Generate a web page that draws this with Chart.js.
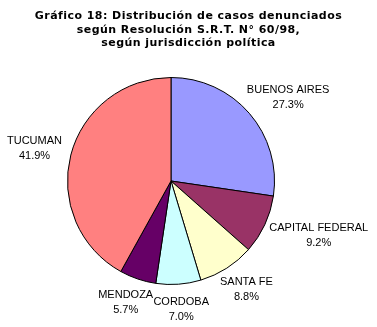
<!DOCTYPE html>
<html>
<head>
<meta charset="utf-8">
<script src="https://cdn.jsdelivr.net/npm/chart.js@4"></script>
<style>
  html, body { margin: 0; padding: 0; background: #fff; }
  #wrap { position: relative; width: 377px; height: 327px; }
  #titulo {
    position: absolute; left: 0; top: 9px; width: 377px;
    text-align: center; font: bold 11px "DejaVu Sans", Verdana, sans-serif;
    letter-spacing: 0.45px; line-height: 13.5px; color: #000;
  }
  #casos { position: absolute; left: 0; top: 0; }
</style>
</head>
<body>
<div id="wrap">
  <canvas id="casos" width="377" height="327"></canvas>
  <div id="titulo"></div>
</div>
<script>
// datos
const provincias = ['BUENOS AIRES', 'CAPITAL FEDERAL', 'SANTA FE', 'CORDOBA', 'MENDOZA', 'TUCUMAN']
const porcentajes = [27.3, 9.2, 8.8, 7.0, 5.7, 41.9]
const colores = ['#9999FF', '#993366', '#FFFFCC', '#CCFFFF', '#660066', '#FF8080']
const titulo = [
  'Gráfico 18: Distribución de casos denunciados',
  'según Resolución S.R.T. N° 60/98,',
  'según jurisdicción política'
]

document.querySelector('#titulo').innerHTML = titulo.join('<br>')

// etiquetas fuera del sector, estilo Excel
const etiquetas = {
  id: 'etiquetas',
  afterDatasetsDraw(chart) {
    const ctx = chart.ctx
    const meta = chart.getDatasetMeta(0)
    ctx.save()
    ctx.font = '11px "Liberation Sans", Arial, sans-serif'
    ctx.fillStyle = '#000'
    ctx.textAlign = 'center'
    ctx.textBaseline = 'middle'
    const gap = 10
    const lh = 15
    meta.data.forEach((arc, i) => {
      const p = arc.getProps(['x', 'y', 'startAngle', 'endAngle', 'outerRadius'], true)
      const mid = (p.startAngle + p.endAngle) / 2
      const ux = Math.cos(mid), uy = Math.sin(mid)
      const txt2 = porcentajes[i].toFixed(1) + '%'
      const w = Math.max(ctx.measureText(provincias[i]).width, ctx.measureText(txt2).width)
      const h = lh * 2
      const cx = p.x + ux * (p.outerRadius + gap) + ux * w / 2
      const cy = p.y + uy * (p.outerRadius + gap) + uy * h / 2
      ctx.fillText(provincias[i], cx, cy - lh / 2)
      ctx.fillText(txt2, cx, cy + lh / 2)
    })
    ctx.restore()
  }
}

const ctx = document.querySelector('#casos')
const grafico = new Chart(ctx, {
  type: 'pie',
  data: {
    labels: provincias,
    datasets: [{
      data: porcentajes,
      backgroundColor: colores,
      borderColor: '#000',
      borderWidth: 1
    }]
  },
  options: {
    responsive: false,
    animation: false,
    layout: { padding: { left: 67, right: 102, top: 77, bottom: 42 } },
    plugins: {
      legend: { display: false },
      tooltip: { enabled: false },
      title: { display: false }
    }
  },
  plugins: [etiquetas]
})
</script>
</body>
</html>
